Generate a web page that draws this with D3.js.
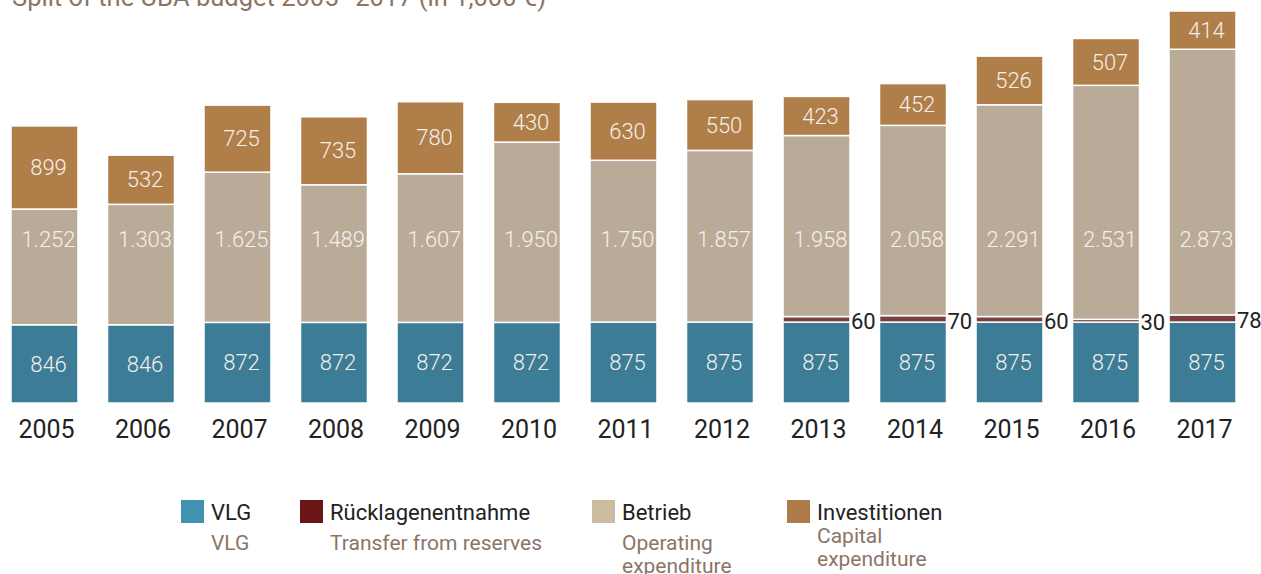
<!DOCTYPE html>
<html>
<head>
<meta charset="utf-8">
<script src="https://d3js.org/d3.v7.min.js"></script>
<style>
  body { margin: 0; background: #fff; }
  svg text { font-family: 'Roboto', 'Liberation Sans', sans-serif; }
  svg text.val { font-weight: 300; }
</style>
</head>
<body>
<script>
// data
var years = ['2005','2006','2007','2008','2009','2010','2011','2012','2013','2014','2015','2016','2017']
var vlg = [846, 846, 872, 872, 872, 872, 875, 875, 875, 875, 875, 875, 875]
var reserves = [0, 0, 0, 0, 0, 0, 0, 0, 60, 70, 60, 30, 78]
var operating = [1252, 1303, 1625, 1489, 1607, 1950, 1750, 1857, 1958, 2058, 2291, 2531, 2873]
var capital = [899, 532, 725, 735, 780, 430, 630, 550, 423, 452, 526, 507, 414]

var seriesKeys = ['vlg', 'reserves', 'operating', 'capital']
var barColors = ['#3c7c96', '#7b3f3f', '#b9ab98', '#b07e49']
var legendColors = ['#4191b1', '#6b1616', '#cbbb9f', '#ae7a47']
var legendDe = ['VLG', 'Rücklagenentnahme', 'Betrieb', 'Investitionen']
var legendEn = [['VLG'], ['Transfer from reserves'], ['Operating', 'expenditure'], ['Capital', 'expenditure']]
var title = 'Split of the UBA budget 2005–2017 (in 1,000 €)'

var w = 1261
var h = 574
var svg = d3.select('body').append('svg').attr('width', w).attr('height', h)

var rows = years.map(function(y, i) {
    return { year: y, vlg: vlg[i], reserves: reserves[i], operating: operating[i], capital: capital[i] }
})
var stacked = d3.stack().keys(seriesKeys)(rows)

var xScale = d3.scaleBand().domain(years).range([11, 1236]).paddingInner(0.306).paddingOuter(0)
var yScale = d3.scaleLinear().domain([0, 4240]).range([403, 11])

// title (cut off at the top in the original)
svg.append('text').attr('x', 12).attr('y', 6)
    .attr('font-size', 25.5).attr('fill', '#8a7566').text(title)

var groups = svg.selectAll('g.series')
    .data(stacked)
    .enter()
    .append('g')
    .attr('class', 'series')
    .attr('fill', function(d, i) { return barColors[i] })

groups.selectAll('rect')
    .data(function(d) { return d })
    .enter()
    .append('rect')
    .attr('x', function(d) { return xScale(d.data.year) })
    .attr('y', function(d) { return yScale(d[1]) })
    .attr('width', xScale.bandwidth())
    .attr('height', function(d) { return Math.max(0, yScale(d[0]) - yScale(d[1])) })
    .attr('stroke', '#fff')
    .attr('stroke-width', function(d) { return d[1] - d[0] > 0 ? 1.5 : 0 })

var labelColor = '#f4f0ea'
var cx = function(y) { return xScale(y) + xScale.bandwidth() / 2 + 4 }
var fmt = function(v) { return d3.format(',')(v).replace(',', '.') }

// VLG labels, centred in their segment
svg.selectAll('text.vlg')
    .data(rows)
    .enter()
    .append('text')
    .attr('class', 'val vlg')
    .attr('x', function(d) { return cx(d.year) })
    .attr('y', function(d) { return yScale(d.vlg / 2) })
    .attr('dy', '0.35em')
    .attr('text-anchor', 'middle')
    .attr('font-size', 22)
    .attr('fill', labelColor)
    .text(function(d) { return d.vlg })

// operating labels sit on one common row
var operatingLabelAt = 1770
svg.selectAll('text.op')
    .data(rows)
    .enter()
    .append('text')
    .attr('class', 'val op')
    .attr('x', function(d) { return cx(d.year) })
    .attr('y', yScale(operatingLabelAt))
    .attr('dy', '0.35em')
    .attr('text-anchor', 'middle')
    .attr('font-size', 22)
    .attr('fill', labelColor)
    .text(function(d) { return fmt(d.operating) })

// capital labels, centred in their segment
svg.selectAll('text.cap')
    .data(rows)
    .enter()
    .append('text')
    .attr('class', 'val cap')
    .attr('x', function(d) { return cx(d.year) })
    .attr('y', function(d) { return yScale(d.vlg + d.reserves + d.operating + d.capital / 2) })
    .attr('dy', '0.35em')
    .attr('text-anchor', 'middle')
    .attr('font-size', 22)
    .attr('fill', labelColor)
    .text(function(d) { return d.capital })

// reserve labels, to the right of the bar
svg.selectAll('text.res')
    .data(rows.filter(function(d) { return d.reserves > 0 }))
    .enter()
    .append('text')
    .attr('class', 'res')
    .attr('x', function(d) { return xScale(d.year) + xScale.bandwidth() + 1 })
    .attr('y', function(d) { return yScale(d.vlg + d.reserves / 2) + 2 })
    .attr('dy', '0.35em')
    .attr('font-size', 22)
    .attr('fill', '#222')
    .text(function(d) { return d.reserves })

// year axis
var xAxis = svg.append('g')
    .attr('transform', 'translate(2,' + 418 + ')')
    .call(d3.axisBottom(xScale).tickSize(0).tickPadding(0))
xAxis.select('.domain').remove()
xAxis.selectAll('text')
    .attr('font-size', 25)
    .attr('font-family', null)
    .attr('fill', '#222')
    .attr('dy', '0.8em')

// legend
var legendX = [181, 300, 592, 787]
var legend = svg.selectAll('g.legend')
    .data(legendDe)
    .enter()
    .append('g')
    .attr('class', 'legend')
    .attr('transform', function(d, i) { return 'translate(' + legendX[i] + ',500)' })

legend.append('rect')
    .attr('width', 23).attr('height', 23)
    .attr('fill', function(d, i) { return legendColors[i] })

legend.append('text')
    .attr('x', 30).attr('y', 20)
    .attr('font-size', 22).attr('fill', '#222')
    .text(function(d) { return d })

legend.each(function(d, i) {
    var lines = legendEn[i]
    var top = lines.length > 1 && i === 3 ? 43 : 50
    d3.select(this).selectAll('text.en')
        .data(lines)
        .enter()
        .append('text')
        .attr('class', 'en')
        .attr('x', 30)
        .attr('y', function(l, j) { return top + j * 23 })
        .attr('font-size', 21)
        .attr('fill', '#8a7566')
        .text(function(l) { return l })
})
</script>
</body>
</html>
